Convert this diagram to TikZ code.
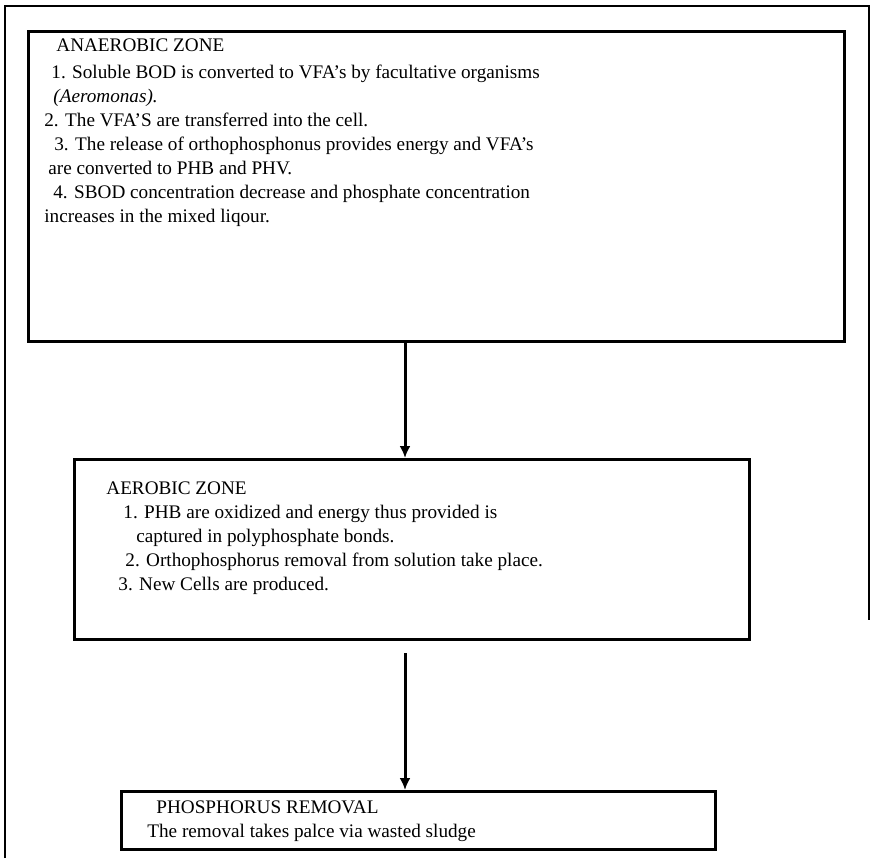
\documentclass[tikz,border=0pt]{standalone}
\usepackage{fontspec}
\setmainfont{Liberation Serif}
\usetikzlibrary{arrows.meta,positioning}

\begin{document}
\begin{tikzpicture}[x=0.5pt,y=-0.5pt,
		zone/.style={draw, line width=1.6pt, anchor=north west, inner sep=0pt},
		zonetext/.style={anchor=north west, align=left, inner sep=0pt,
			font=\fontsize{9.6}{12}\selectfont},
		flow/.style={line width=1.5pt, -{Latex[length=6pt,width=5.5pt]}}]
		\useasboundingbox (0,0) rectangle (872,858);

		% outer frame
		\draw[line width=0.7pt] (5,858) -- (5,6) -- (869,6) -- (869,620);

		% boxes
		\node[zone, minimum width=408pt, minimum height=155pt] (anaer) at (27,30) {};
		\node[zone, minimum width=337.5pt, minimum height=90pt] (aer) at (73,458) {};
		\node[zone, minimum width=297pt, minimum height=29pt] (phos) at (120,790) {};

		% texts
		\node[zonetext] (anaertext) at (44,38) {%
			\hspace*{6pt}ANAEROBIC ZONE\\[1.5pt]
			\hspace*{3.5pt}1. Soluble BOD is converted to VFA's by facultative organisms\\
			\hspace*{4.5pt}\textit{(Aeromonas).}\\
			2. The VFA'S are transferred into the cell.\\
			\hspace*{5pt}3. The release of orthophosphonus provides energy and VFA's\\
			\hspace*{2pt}are converted to PHB and PHV.\\
			\hspace*{4.5pt}4. SBOD concentration decrease and phosphate concentration\\
			increases in the mixed liqour.};
		\node[zonetext] (aertext) at (106,481) {%
			AEROBIC ZONE\\
			\hspace*{8.5pt}1. PHB are oxidized and energy thus provided is\\
			\hspace*{15pt}captured in polyphosphate bonds.\\
			\hspace*{9.5pt}2. Orthophosphorus removal from solution take place.\\
			\hspace*{6pt}3. New Cells are produced.};
		\node[zonetext] (phostext) at (147,800) {%
			\hspace*{4.5pt}PHOSPHORUS REMOVAL\\
			The removal takes palce via wasted sludge};

		% connectors
		\coordinate (axis) at (405,0);
		\draw[flow] (anaer.south -| axis) -- (aer.north -| axis);
		\draw[flow] ([yshift=-6pt]aer.south -| axis) -- (phos.north -| axis);
	\end{tikzpicture}
\end{document}
